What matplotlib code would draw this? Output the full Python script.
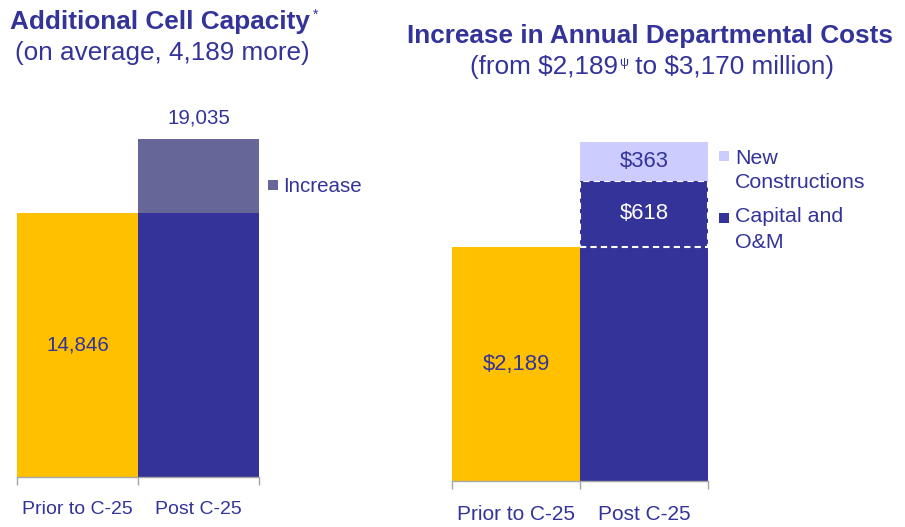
import matplotlib
matplotlib.use("Agg")
import matplotlib.pyplot as plt
from matplotlib.patches import Rectangle

plt.rcParams['font.family'] = ['Liberation Sans', 'DejaVu Sans']

# ---- data ----
categories = ["Prior to C-25", "Post C-25"]
cell_base = [14846, 14846]
cell_increase = [0, 4189]
cell_total_label = "19,035"
cell_prior_label = "14,846"

cost_base = [2189, 2189]
cost_capital = [0, 618]
cost_new = [0, 363]
cost_labels = ["$2,189", "$618", "$363"]

NAVY = "#333399"
YELLOW = "#FFC000"
INCREASE = "#666699"
LAVENDER = "#CCCCFF"
GRAY = "#A6A6A6"

W, H = 905, 527
fig = plt.figure(figsize=(W / 100, H / 100), dpi=100)


def fx(px):
    return px / W


def fy(py):
    return 1 - py / H


def style_axis(ax, fs, pad):
    for s in ("top", "left", "right"):
        ax.spines[s].set_visible(False)
    ax.spines["bottom"].set_color(GRAY)
    ax.spines["bottom"].set_linewidth(1.0)
    ax.set_yticks([])
    ax.set_xlim(-0.5, 1.5)
    ax.set_xticks([0, 1])
    ax.set_xticklabels(categories, fontsize=fs, color=NAVY)
    ax.tick_params(axis="x", which="major", length=0, pad=pad)
    ax.set_xticks([-0.5, 0.5, 1.5], minor=True)
    ax.tick_params(axis="x", which="minor", length=6, color=GRAY, width=1.0)


# ---- left panel ----
axL = fig.add_axes([fx(17), fy(477), fx(259) - fx(17), fy(110) - fy(477)])
x = [0, 1]
axL.bar(x, cell_base, width=1.0, color=[YELLOW, NAVY], linewidth=0)
axL.bar(x, cell_increase, width=1.0, bottom=cell_base, color=INCREASE, linewidth=0)
axL.set_ylim(0, 20640)
style_axis(axL, 14, 17.5)
axL.text(0, cell_base[0] / 2, cell_prior_label, ha="center", va="center",
         fontsize=14.8, color=NAVY)
axL.text(1, cell_base[1] + cell_increase[1] + 600, cell_total_label, ha="center",
         va="bottom", fontsize=14.8, color=NAVY)

# ---- right panel ----
axR = fig.add_axes([fx(452), fy(481), fx(708) - fx(452), fy(110) - fy(481)])
axR.bar(x, cost_base, width=1.0, color=[YELLOW, NAVY], linewidth=0)
axR.bar([1], [cost_capital[1]], width=1.0, bottom=[cost_base[1]], color=NAVY,
        edgecolor="white", linestyle=(0, (3, 2)), linewidth=1.5)
new_bottom = cost_base[1] + cost_capital[1]
axR.bar([1], [cost_new[1]], width=1.0, bottom=[new_bottom], color=LAVENDER,
        linewidth=0)
axR.set_ylim(0, 3471)
style_axis(axR, 15, 17)
axR.text(0, cost_base[0] / 2, cost_labels[0], ha="center", va="center",
         fontsize=15.8, color=NAVY)
axR.text(1, cost_base[1] + cost_capital[1] / 2, cost_labels[1], ha="center",
         va="center", fontsize=15.8, color="white")
axR.text(1, new_bottom + cost_new[1] / 2, cost_labels[2], ha="center",
         va="center", fontsize=15.8, color=NAVY)

# ---- titles ----
TFS = 18.8
tL = fig.text(fx(10), fy(29), "Additional Cell Capacity", fontsize=TFS,
              fontweight="bold", color=NAVY, va="baseline", ha="left")
fig.canvas.draw()
renderer = fig.canvas.get_renderer()
bb = tL.get_window_extent(renderer)
fig.text((bb.x1 + 3) / W, bb.y1 / H + 0.004, "*", fontsize=10, color=NAVY,
         va="top", ha="left")
fig.text(fx(15), fy(60), "(on average, 4,189 more)", fontsize=TFS,
         color=NAVY, va="baseline", ha="left")

fig.text(fx(407), fy(43), "Increase in Annual Departmental Costs", fontsize=TFS,
         fontweight="bold", color=NAVY, va="baseline", ha="left")
sA = fig.text(fx(470), fy(74), "(from \\$2,189", fontsize=TFS, color=NAVY,
              va="baseline", ha="left")
fig.canvas.draw()
bA = sA.get_window_extent(renderer)
psi = fig.text((bA.x1 + 1) / W, bA.y1 / H - 0.004, "\u03c8", fontsize=9,
               color=NAVY, va="top", ha="left")
fig.canvas.draw()
bP = psi.get_window_extent(renderer)
fig.text(bP.x1 / W, fy(74), " to \\$3,170 million)", fontsize=TFS, color=NAVY,
         va="baseline", ha="left")

# ---- legends ----
def square(px, py, color):
    fig.add_artist(Rectangle((fx(px), fy(py + 10)), 10 / W, 10 / H,
                             transform=fig.transFigure, color=color, lw=0))


square(268, 180, INCREASE)
fig.text(fx(283), fy(186), "Increase", fontsize=14.8, color=NAVY,
         va="center", ha="left")

LFS = 15.4
square(719, 151, LAVENDER)
fig.text(fx(735), fy(158), "New", fontsize=LFS, color=NAVY, va="center", ha="left")
fig.text(fx(735), fy(182), "Constructions", fontsize=LFS, color=NAVY,
         va="center", ha="left")
square(719, 213, NAVY)
fig.text(fx(735), fy(217), "Capital and", fontsize=LFS, color=NAVY,
         va="center", ha="left")
fig.text(fx(735), fy(242), "O&M", fontsize=LFS, color=NAVY, va="center", ha="left")

fig.savefig("out.png", dpi=100)
